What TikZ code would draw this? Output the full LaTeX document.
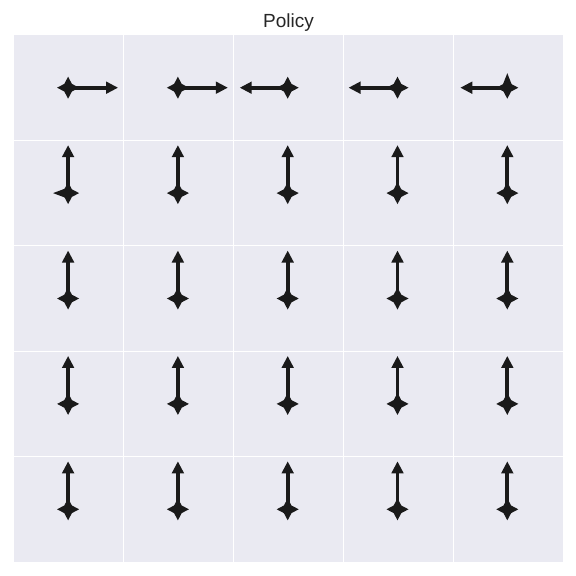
\documentclass[tikz,border=0pt]{standalone}
\usepackage{fontspec}
\setmainfont{Liberation Sans}
\usepackage{xcolor}
\usetikzlibrary{arrows.meta}
\definecolor{panel}{HTML}{EAEAF2}
\definecolor{ink}{HTML}{1A1A1A}
\definecolor{titleink}{HTML}{262626}

\begin{document}
\begin{tikzpicture}[
			     x=1pt, y=-1pt,
			     grid line/.style={draw=white, line width=1pt},
			     policy arrow/.style={draw=ink, line width=3.8pt, -{Triangle[length=12pt 0,width=11.5pt 0]}},
			     head star/.style={fill=ink}
			     ]
\useasboundingbox (0,0) rectangle (576,576);
\fill[panel] (14,35) rectangle (563,562);
\foreach \i in {1,...,4} {%
\draw[grid line] ({14+\i*109.8},35) -- ({14+\i*109.8},562);
\draw[grid line] (14,{35+\i*105.4}) -- (563,{35+\i*105.4});
}
\node[font=\fontsize{19}{22}\selectfont, text=titleink] (title) at (288.5,23) {Policy};
% cell centres
\foreach \r in {1,...,5}
  \foreach \c in {1,...,5}
    \coordinate (s-\r-\c) at ({14+(\c-0.5)*109.8-0.8},{35+(\r-0.5)*105.4});
% arrow ends
\foreach \c/\dx in {1/50,2/50,3/-48,4/-49,5/-47}
  \coordinate (e-1-\c) at ({14+(\c-0.5)*109.8-0.8+\dx},{35+0.5*105.4});
\foreach \r in {2,...,5}
  \foreach \c in {1,...,5}
    \coordinate (e-\r-\c) at ({14+(\c-0.5)*109.8-0.8},{35+(\r-0.5)*105.4-48});
\foreach \r in {1,...,5}
  \foreach \c in {1,...,5} {%
    \path[policy arrow] (s-\r-\c) -- (e-\r-\c);
    \fill[head star, shift={(s-\r-\c)}] (11,0) -- (3.8,3.8) -- (0,11) -- (-3.8,3.8) -- (-11,0) -- (-3.8,-3.8) -- (0,-11) -- (3.8,-3.8) -- cycle;
  }
\fill[head star, shift={(s-2-1)}] (-15,0) -- (-3,4.5) -- (-3,-4.5) -- cycle;
\fill[head star, shift={(s-1-5)}] (0,-14.5) -- (4.5,-3) -- (-4.5,-3) -- cycle;
\end{tikzpicture}
\end{document}
